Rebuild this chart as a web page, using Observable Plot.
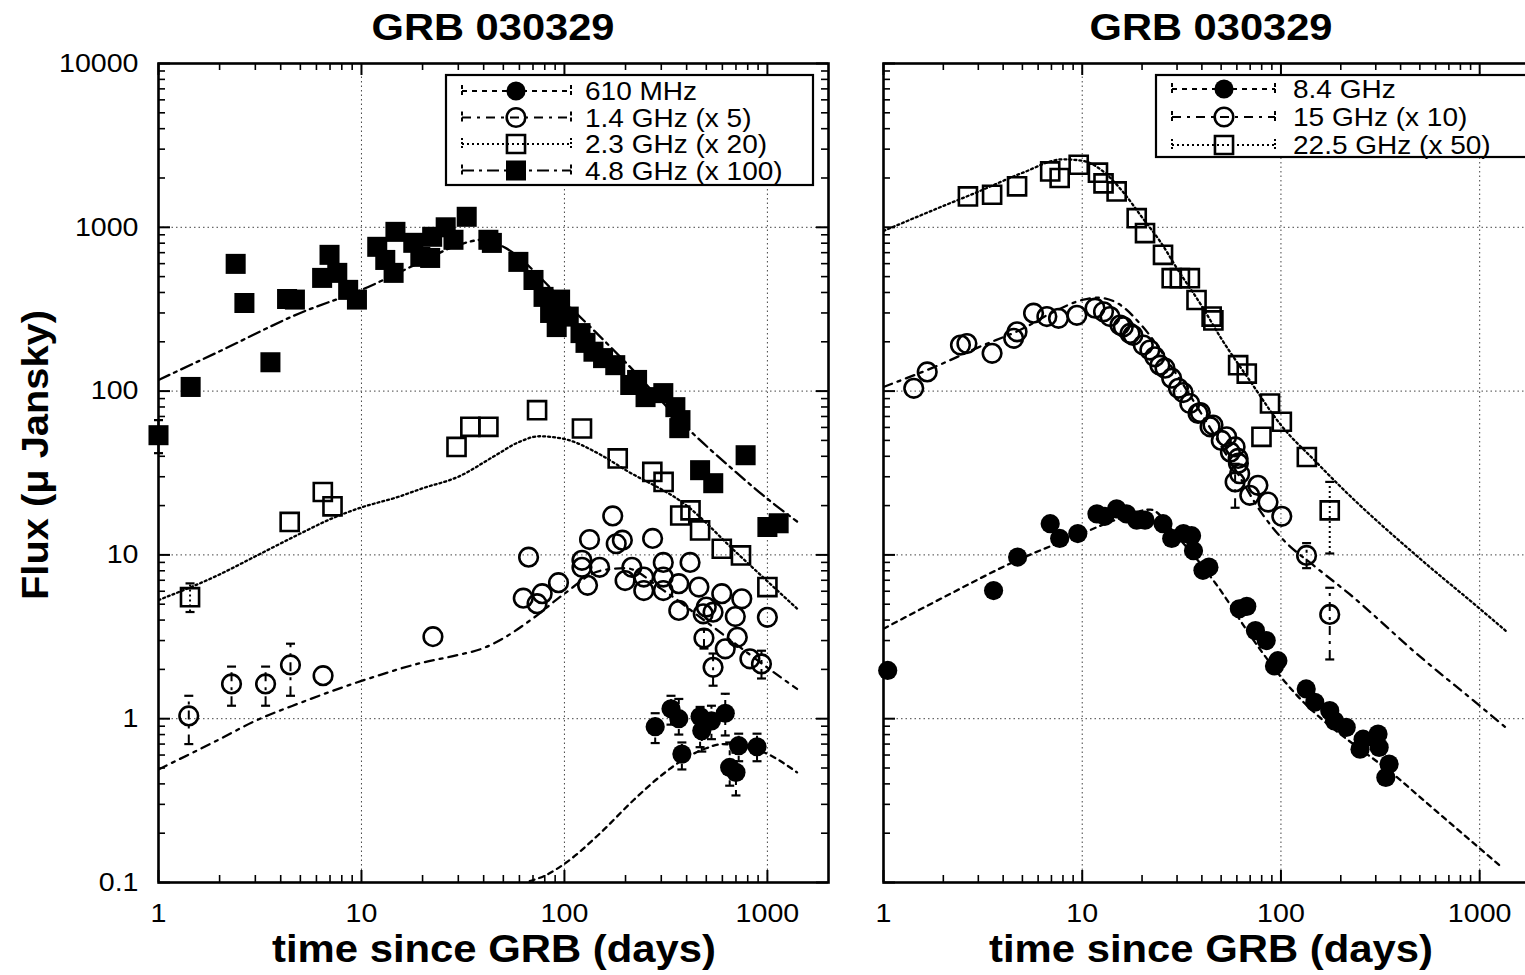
<!DOCTYPE html>
<html><head><meta charset="utf-8">
<script src="https://cdn.jsdelivr.net/npm/d3@7"></script>
<script src="https://cdn.jsdelivr.net/npm/@observablehq/plot@0.6"></script>
<style>
body{margin:0;background:#fff;overflow:hidden;}
#wrap{position:relative;width:1525px;height:975px;overflow:hidden;background:#fff;}
</style></head><body><div id="wrap"></div>
<script>
// ---------------- tick values ----------------
const xMajor = [1, 10, 100, 1000];
const xMinor = [2,3,4,5,6,7,8,9,20,30,40,50,60,70,80,90,200,300,400,500,600,700,800,900];
const yMajor = [0.1, 1, 10, 100, 1000, 10000];
const yMinor = [0.2,0.3,0.4,0.5,0.6,0.7,0.8,0.9,2,3,4,5,6,7,8,9,20,30,40,50,60,70,80,90,200,300,400,500,600,700,800,900,2000,3000,4000,5000,6000,7000,8000,9000];
const gridX = [10, 100, 1000];
const gridY = [1, 10, 100, 1000];

// ---------------- legends / titles ----------------
const titles = ["GRB 030329", "GRB 030329"];
const xLabel = "time since GRB (days)";
const yLabel = "Flux (\u03bc Jansky)";
const legendLeft = ["610 MHz", "1.4 GHz (x 5)", "2.3 GHz (x 20)", "4.8 GHz (x 100)"];
const legendRight = ["8.4 GHz", "15 GHz (x 10)", "22.5 GHz (x 50)"];

// ---------------- LEFT PANEL DATA ----------------
// 610 MHz
const t610 = [280, 335, 366, 379, 466, 475, 530, 620, 652, 700, 722, 889];
const f610 = [0.894, 1.15, 1.0, 0.608, 1.03, 0.845, 0.97, 1.08, 0.504, 0.47, 0.684, 0.674];
const e610lo = [0.71, 0.92, 0.8, 0.49, 0.67, 0.63, 0.75, 0.79, 0.39, 0.34, 0.55, 0.55];
const e610hi = [1.08, 1.38, 1.32, 0.716, 1.18, 1.0, 1.2, 1.42, 0.716, 0.62, 0.81, 0.81];
const m610T = [55, 65, 80, 100, 150, 220, 300, 400, 500, 600, 750, 1000, 1400];
const m610F = [0.09, 0.1, 0.11, 0.13, 0.2, 0.32, 0.45, 0.58, 0.66, 0.7, 0.68, 0.61, 0.47];
// 1.4 GHz (x5)
const t14 = [1.41, 2.29, 3.37, 4.47, 6.47, 22.5, 66.6, 62.7, 73.3, 77.7, 93.5, 122, 122, 130, 133, 149, 173, 180, 193, 199, 215, 246, 246, 272, 307, 307, 307, 366, 366, 416, 460, 483, 500, 540, 487, 596, 620, 695, 711, 748, 540, 820, 935, 1000];
const f14 = [1.04, 1.63, 1.63, 2.13, 1.83, 3.17, 9.68, 5.44, 5.04, 5.8, 6.77, 9.26, 8.4, 6.52, 12.4, 8.4, 17.3, 11.7, 12.3, 6.97, 8.4, 7.32, 6.06, 12.6, 9.0, 7.32, 6.06, 6.67, 4.58, 9.0, 6.36, 4.37, 4.8, 4.47, 3.11, 5.8, 2.67, 4.2, 3.14, 5.39, 2.06, 2.32, 2.16, 4.16];
const e14T = [1.41, 2.29, 3.37, 4.47, 540, 487, 935];
const e14lo = [0.70, 1.2, 1.2, 1.38, 1.59, 2.68, 1.76];
const e14hi = [1.38, 2.08, 2.08, 2.87, 2.5, 3.5, 2.6];
const m14T = [1, 2, 3, 5, 10, 20, 30, 40, 50, 70, 100, 150, 200, 300, 500, 700, 1000, 1400];
const m14F = [0.49, 0.75, 0.97, 1.25, 1.7, 2.2, 2.45, 2.7, 3.1, 4.1, 5.8, 8.0, 8.3, 6.2, 3.9, 2.85, 2.05, 1.52];
// 2.3 GHz (x20)
const t23 = [1.43, 4.43, 6.45, 7.2, 29.4, 34.4, 42.2, 73.3, 122, 183, 271, 308, 372, 418, 466, 596, 741, 1000];
const f23 = [5.52, 15.9, 24.2, 19.8, 45.6, 60.5, 60.5, 76.5, 59.1, 38.8, 32.1, 27.9, 17.4, 18.7, 14.1, 10.9, 9.93, 6.36];
const e23T = [1.43];
const e23lo = [4.48];
const e23hi = [6.7];
const m23T = [1, 2, 3, 5, 7, 10, 15, 20, 30, 45, 60, 75, 100, 150, 200, 400, 700, 1000, 1400];
const m23F = [5.3, 7.6, 9.8, 13.5, 16.5, 19.5, 22.5, 25.5, 30, 40, 49, 53, 51, 41, 33, 20, 10.4, 6.9, 4.7];
// 4.8 GHz (x100)
const t48 = [1.0, 1.44, 2.4, 2.65, 3.56, 4.3, 4.7, 6.4, 6.96, 7.6, 8.6, 9.5, 11.96, 13.1, 14.7, 14.4, 18.0, 19.5, 21.8, 22.3, 26, 28.4, 33, 42.2, 43.9, 59.3, 70.4, 78.9, 85, 95.2, 91.6, 105, 120, 127, 139, 155, 178, 211, 228, 251, 307, 352, 373, 368, 781, 466, 541, 1000, 1136];
const f48 = [53.8, 106, 598, 345, 150, 365, 362, 491, 679, 527, 415, 362, 760, 632, 938, 527, 804, 660, 650, 875, 1000, 839, 1159, 839, 803, 615, 477, 376, 300, 362, 246, 285, 226, 197, 174, 159, 144, 109, 117, 91.9, 97.2, 79.8, 66.5, 59.4, 40.6, 32.9, 27.4, 14.8, 15.6];
const e48T = [1.0];
const e48lo = [41.8];
const e48hi = [66.5];
const m48T = [1, 2, 5, 10, 20, 30, 40, 50, 100, 200, 400, 700, 1000, 1400];
const m48F = [117, 175, 300, 415, 620, 780, 840, 760, 350, 150, 60, 32, 22, 16];

// ---------------- RIGHT PANEL DATA ----------------
// 8.4 GHz
const t84 = [1.05, 3.58, 4.73, 6.9, 7.7, 9.5, 11.86, 13.0, 14.9, 16.7, 18.8, 20.7, 25.5, 28.2, 32.3, 35.5, 36.3, 40.5, 43.4, 61.7, 67.3, 74.4, 84.3, 96.5, 92.8, 134, 148, 176, 186, 213, 250, 259, 308, 312, 350, 337];
const f84 = [1.97, 6.06, 9.7, 15.5, 12.6, 13.5, 17.8, 17.2, 19.1, 17.8, 16.3, 16.3, 15.5, 12.6, 13.5, 13.1, 10.6, 8.05, 8.42, 4.69, 4.85, 3.45, 3.0, 2.26, 2.1, 1.52, 1.26, 1.12, 0.97, 0.885, 0.652, 0.75, 0.806, 0.668, 0.528, 0.438];
const m84T = [1, 2, 4.7, 9.4, 15, 22, 30, 47, 75, 100, 410, 700, 1300];
const m84F = [3.54, 5.5, 9.26, 13.1, 16.5, 18.9, 13, 6.67, 2.86, 1.8, 0.41, 0.234, 0.123];
// 15 GHz (x10)
const t15 = [1.42, 1.66, 2.44, 2.63, 3.52, 4.52, 4.7, 5.69, 6.64, 7.6, 9.4, 11.6, 12.8, 13.8, 15.5, 16.1, 17.4, 18.0, 20.3, 21.9, 23.2, 24.6, 26.1, 28.2, 30.5, 32.2, 34.8, 38.3, 39.3, 44, 45.5, 50.1, 53.3, 55.7, 58.8, 60.9, 61.1, 62, 58.8, 69.7, 76.6, 86.1, 101, 134.6, 176];
const f15 = [104, 131, 191, 195, 170, 210, 230, 299, 285, 278, 290, 321, 305, 285, 253, 247, 225, 219, 191, 178, 162, 144, 138, 120, 104, 98, 84, 73, 74, 60.5, 62, 50, 52.6, 42.4, 45.6, 38.8, 36.3, 31.3, 27.9, 23.1, 26.6, 21.0, 17.2, 9.93, 4.33];
const e15T = [58.8, 134.6, 176];
const e15lo = [19.4, 8.3, 2.3];
const e15hi = [36, 11.8, 6.3];
const m15T = [1, 2, 3, 5, 7, 10, 12, 15, 20, 30, 40, 60, 80, 100, 150, 220, 500, 1000, 1350];
const m15F = [106, 148, 185, 240, 300, 360, 372, 345, 250, 125, 72, 32, 18, 12.8, 8.4, 5.8, 2.4, 1.2, 0.885];
// 22.5 GHz (x50)
const t225 = [2.66, 3.52, 4.7, 6.9, 7.7, 9.6, 12.0, 12.8, 14.9, 18.8, 20.7, 25.5, 28.2, 31, 34.8, 37.6, 44.8, 45.7, 60.9, 67.3, 79.8, 88.1, 101, 135, 176];
const f225 = [1543, 1580, 1779, 2193, 2000, 2410, 2155, 1854, 1656, 1137, 922, 679, 489, 489, 489, 360, 285, 270, 144, 128, 52.6, 84, 65, 39.6, 18.7];
const e225T = [176];
const e225lo = [10.2];
const e225hi = [27.9];
const m225T = [1, 2, 3, 5, 8, 10, 13, 16, 20, 25, 30, 40, 50, 70, 100, 150, 200, 500, 1000, 1380];
const m225F = [950, 1350, 1650, 2150, 2600, 2550, 2150, 1650, 1150, 800, 560, 330, 210, 115, 62, 37, 26, 9.5, 4.7, 3.37];

// ---------------- helpers ----------------
const FONT = "'Liberation Sans', Arial, Helvetica, sans-serif";
const zipPts = (T, F) => T.map((t, i) => ({t, f: F[i]}));
const zipErr = (T, L, H) => T.map((t, i) => ({t, lo: L[i], hi: H[i]}));
const DASH = {short: "5,5", dashdot: "9,6,3,6", dotted: "2,3", dashdot2: "12,5,3,5"};
const capSymbol = {draw(ctx, size) { const w = Math.sqrt(size / Math.PI); ctx.moveTo(-w, 0); ctx.lineTo(w, 0); }};

const HEIGHT = 975, MT = 63, MB = 93;

function seriesMarks(s) {
  const marks = [];
  marks.push(Plot.line(zipPts(s.mT, s.mF), {x: "t", y: "f", stroke: "black", strokeWidth: 2.3, strokeDasharray: s.dash, curve: "monotone-x", clip: true}));
  if (s.eT) {
    const ed = zipErr(s.eT, s.eLo, s.eHi);
    marks.push(Plot.ruleX(ed, {x: "t", y1: "lo", y2: "hi", stroke: "black", strokeWidth: 2, strokeDasharray: s.dash}));
    marks.push(Plot.dot(ed, {x: "t", y: "lo", symbol: capSymbol, r: 4.5, stroke: "black", strokeWidth: 2.2, fill: "none"}));
    marks.push(Plot.dot(ed, {x: "t", y: "hi", symbol: capSymbol, r: 4.5, stroke: "black", strokeWidth: 2.2, fill: "none"}));
  }
  const pts = zipPts(s.T, s.F);
  if (s.sym === "fsquare") marks.push(Plot.dot(pts, {x: "t", y: "f", symbol: "square", r: 11.3, fill: "black", stroke: "none"}));
  if (s.sym === "osquare") marks.push(Plot.dot(pts, {x: "t", y: "f", symbol: "square", r: 10.2, fill: "none", stroke: "black", strokeWidth: 2.6}));
  if (s.sym === "fcircle") marks.push(Plot.dot(pts, {x: "t", y: "f", symbol: "circle", r: 9.6, fill: "black", stroke: "none"}));
  if (s.sym === "ocircle") marks.push(Plot.dot(pts, {x: "t", y: "f", symbol: "circle", r: 9.3, fill: "none", stroke: "black", strokeWidth: 2.6}));
  return marks;
}

function makePanel(cfg) {
  const plotW = cfg.width - cfg.marginLeft - cfg.marginRight;
  const plotH = HEIGHT - MT - MB;
  const marks = [
    Plot.ruleX(gridX, {stroke: "#444", strokeWidth: 1, strokeDasharray: "1.5,3"}),
    Plot.ruleY(gridY, {stroke: "#444", strokeWidth: 1, strokeDasharray: "1.5,3"}),
    Plot.tickX(xMinor, {insetTop: plotH - 7, stroke: "black", strokeWidth: 1.6}),
    Plot.tickX(xMinor, {insetBottom: plotH - 7, stroke: "black", strokeWidth: 1.6}),
    Plot.tickX(xMajor, {insetTop: plotH - 12, stroke: "black", strokeWidth: 2}),
    Plot.tickX(xMajor, {insetBottom: plotH - 12, stroke: "black", strokeWidth: 2}),
    Plot.tickY(yMinor, {insetRight: plotW - 7, stroke: "black", strokeWidth: 1.6}),
    Plot.tickY(yMinor, {insetLeft: plotW - 7, stroke: "black", strokeWidth: 1.6}),
    Plot.tickY(yMajor, {insetRight: plotW - 12, stroke: "black", strokeWidth: 2}),
    Plot.tickY(yMajor, {insetLeft: plotW - 12, stroke: "black", strokeWidth: 2}),
  ];
  cfg.series.forEach(s => marks.push(...seriesMarks(s)));
  marks.push(Plot.frame({stroke: "black", strokeWidth: 2.6}));
  marks.push(Plot.axisX({ticks: xMajor, tickFormat: d => String(d), tickSize: 0, tickPadding: 21, fontSize: 26, label: null}));
  if (cfg.yLabels) marks.push(Plot.axisY({ticks: yMajor, tickFormat: d => String(d), tickSize: 0, tickPadding: 20, fontSize: 26, label: null}));
  return Plot.plot({
    width: cfg.width, height: HEIGHT,
    marginTop: MT, marginBottom: MB, marginLeft: cfg.marginLeft, marginRight: cfg.marginRight,
    x: {type: "log", domain: [1, 2000]},
    y: {type: "log", domain: [0.1, 10000], axis: cfg.yLabels ? undefined : null},
    style: {fontFamily: FONT, background: "transparent", overflow: "visible", color: "black"},
    marks
  });
}

const leftSeries = [
  {T: t23, F: f23, mT: m23T, mF: m23F, dash: DASH.dotted, sym: "osquare", eT: e23T, eLo: e23lo, eHi: e23hi},
  {T: t14, F: f14, mT: m14T, mF: m14F, dash: DASH.dashdot, sym: "ocircle", eT: e14T, eLo: e14lo, eHi: e14hi},
  {T: t610, F: f610, mT: m610T, mF: m610F, dash: DASH.short, sym: "fcircle", eT: t610, eLo: e610lo, eHi: e610hi},
  {T: t48, F: f48, mT: m48T, mF: m48F, dash: DASH.dashdot2, sym: "fsquare", eT: e48T, eLo: e48lo, eHi: e48hi},
];
const rightSeries = [
  {T: t225, F: f225, mT: m225T, mF: m225F, dash: DASH.dotted, sym: "osquare", eT: e225T, eLo: e225lo, eHi: e225hi},
  {T: t15, F: f15, mT: m15T, mF: m15F, dash: DASH.dashdot, sym: "ocircle", eT: e15T, eLo: e15lo, eHi: e15hi},
  {T: t84, F: f84, mT: m84T, mF: m84F, dash: DASH.short, sym: "fcircle"},
];

const wrap = document.getElementById("wrap");
function place(el, left) {
  el.style.position = "absolute"; el.style.left = left + "px"; el.style.top = "0px"; el.style.maxWidth = "none";
  wrap.appendChild(el);
}
const leftSvg = makePanel({width: 900, marginLeft: 158, marginRight: 72, series: leftSeries, yLabels: true});
place(leftSvg, 0);
const rightSvg = makePanel({width: 900, marginLeft: 153, marginRight: 91, series: rightSeries, yLabels: false});
place(rightSvg, 730);

function stretch(nodes, k) {
  nodes.forEach(n => { const L = n.getComputedTextLength(); n.setAttribute("textLength", L * k); n.setAttribute("lengthAdjust", "spacingAndGlyphs"); });
}
[leftSvg, rightSvg].forEach(svg => stretch(svg.querySelectorAll('g[aria-label$="tick label"] text'), 1.1));

// ---------------- overlay: titles, labels, legends ----------------
const ov = d3.create("svg").attr("width", 1525).attr("height", 975).attr("font-family", FONT)
  .style("position", "absolute").style("left", "0px").style("top", "0px").style("overflow", "hidden");
wrap.appendChild(ov.node());

[[493, titles[0]], [1211, titles[1]]].forEach(([x, s]) => {
  ov.append("text").attr("x", x).attr("y", 40).attr("text-anchor", "middle").attr("font-weight", "bold")
    .attr("font-size", 37).attr("textLength", 243).attr("lengthAdjust", "spacingAndGlyphs").text(s);
});
[[494], [1211]].forEach(([x]) => {
  ov.append("text").attr("x", x).attr("y", 962).attr("text-anchor", "middle").attr("font-weight", "bold")
    .attr("font-size", 39).attr("textLength", 444).attr("lengthAdjust", "spacingAndGlyphs").text(xLabel);
});
ov.append("text").attr("transform", "translate(48,455) rotate(-90)").attr("text-anchor", "middle").attr("font-weight", "bold")
  .attr("font-size", 37).attr("textLength", 290).attr("lengthAdjust", "spacingAndGlyphs").text(yLabel);

function drawLegend(box, rows, sx0, sx1, symX, textX) {
  const g = ov.append("g");
  g.append("rect").attr("x", box.x).attr("y", box.y).attr("width", box.w).attr("height", box.h)
    .attr("fill", "white").attr("stroke", "black").attr("stroke-width", 2.2);
  const texts = [];
  rows.forEach(r => {
    g.append("line").attr("x1", sx0).attr("x2", sx1).attr("y1", r.y).attr("y2", r.y)
      .attr("stroke", "black").attr("stroke-width", 2).attr("stroke-dasharray", r.dash);
    [sx0, sx1].forEach(xx => g.append("line").attr("x1", xx).attr("x2", xx).attr("y1", r.y - 6).attr("y2", r.y + 6)
      .attr("stroke", "black").attr("stroke-width", 2).attr("stroke-dasharray", r.dash === DASH.dotted ? "2,2" : "4,2"));
    const isSq = r.sym.includes("square"), filled = r.sym[0] === "f";
    const rr = isSq ? (filled ? 11.3 : 10.2) : (filled ? 9.6 : 9.3);
    const p = d3.symbol(isSq ? d3.symbolSquare : d3.symbolCircle, Math.PI * rr * rr)();
    g.append("path").attr("d", p).attr("transform", `translate(${symX},${r.y})`)
      .attr("fill", filled ? "black" : "none").attr("stroke", filled ? "none" : "black").attr("stroke-width", 2.6);
    texts.push(g.append("text").attr("x", textX).attr("y", r.y + 9).attr("font-size", 25).text(r.label).node());
  });
  stretch(texts, 1.12);
}
const symsL = ["fcircle", "ocircle", "osquare", "fsquare"];
const dashL = [DASH.short, DASH.dashdot, DASH.dotted, DASH.dashdot2];
const rowYL = [91, 117.5, 144, 170.5];
drawLegend({x: 446, y: 75, w: 367, h: 110}, legendLeft.map((l, i) => ({label: l, sym: symsL[i], dash: dashL[i], y: rowYL[i]})), 462, 571, 516, 585);
const symsR = ["fcircle", "ocircle", "osquare"];
const dashR = [DASH.short, DASH.dashdot, DASH.dotted];
const rowYR = [89, 117, 145];
drawLegend({x: 1156, y: 75, w: 420, h: 82}, legendRight.map((l, i) => ({label: l, sym: symsR[i], dash: dashR[i], y: rowYR[i]})), 1172, 1275, 1224, 1293);
</script>
</body></html>
